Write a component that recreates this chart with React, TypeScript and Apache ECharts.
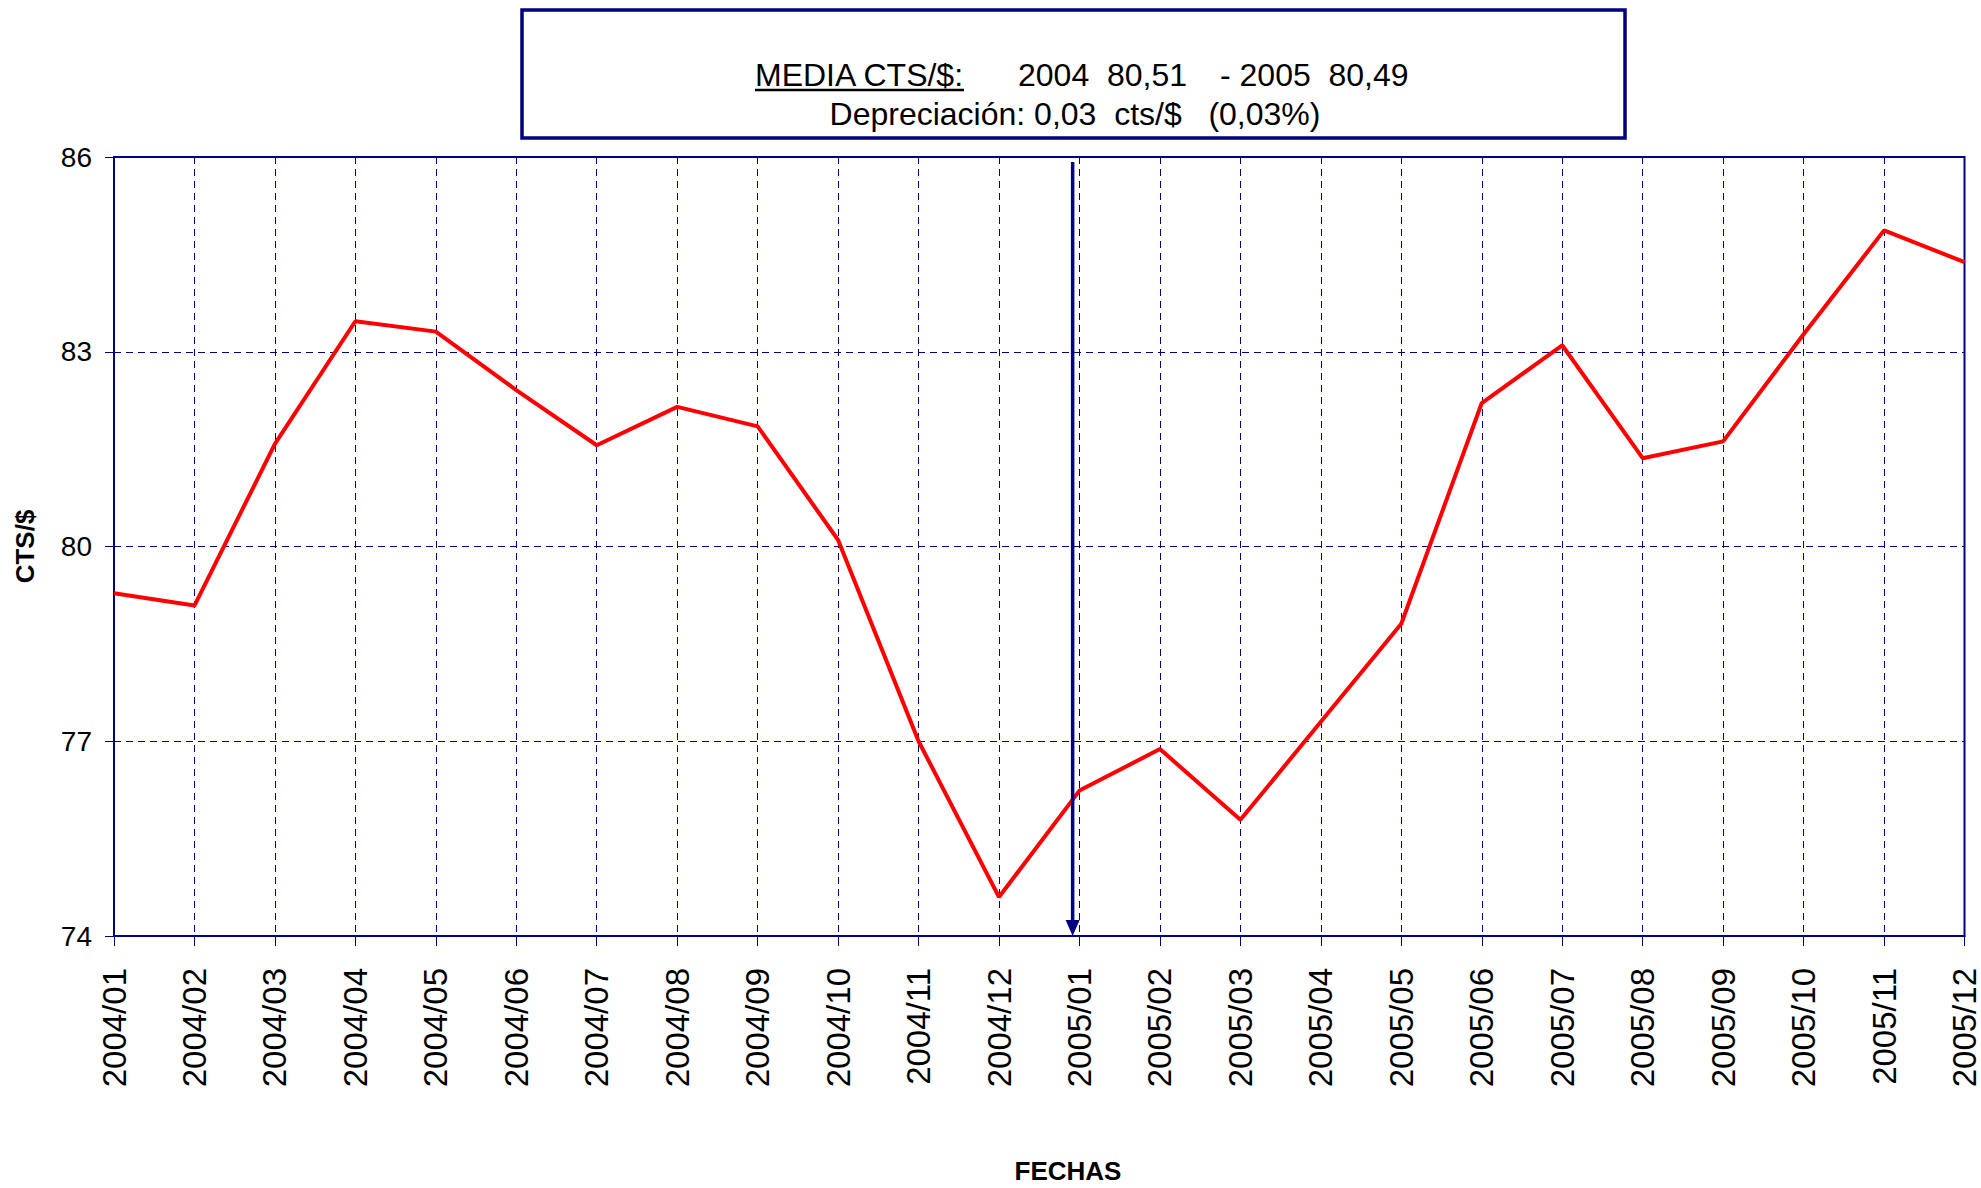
import { useEffect, useRef } from "react";
import * as echarts from "echarts";

const months = [
  "2004/01", "2004/02", "2004/03", "2004/04", "2004/05", "2004/06",
  "2004/07", "2004/08", "2004/09", "2004/10", "2004/11", "2004/12",
  "2005/01", "2005/02", "2005/03", "2005/04", "2005/05", "2005/06",
  "2005/07", "2005/08", "2005/09", "2005/10", "2005/11", "2005/12",
];
const ctsPerDollar = [
  79.28, 79.09, 81.58, 83.47, 83.31, 82.41, 81.56, 82.15, 81.85, 80.1, 77.0, 74.6,
  76.24, 76.88, 75.79, 77.3, 78.81, 82.21, 83.1, 81.36, 81.62, 83.27, 84.87, 84.38,
];
const yMin = 74;
const yMax = 86;
const yStep = 3;
const yName = "CTS/$";
const xName = "FECHAS";
const headLabel = "MEDIA CTS/$:";
const head2004 = "2004  80,51";
const head2005 = "- 2005  80,49";
const headLine2 = "Depreciación: 0,03  cts/$   (0,03%)";
const arrowMonth = "2005/01";

const NAVY = "#000080";
const FONT = "'Liberation Sans', Arial, sans-serif";

export default function App() {
  const ref = useRef<HTMLDivElement>(null);
  useEffect(() => {
    if (!ref.current) return;
    const chart = echarts.init(ref.current, null, { renderer: "svg" });
    chart.setOption({
      animation: false,
      backgroundColor: "#ffffff",
      textStyle: { fontFamily: FONT },
      grid: {
        left: 114,
        right: 12,
        top: 157,
        bottom: 252,
        show: true,
        borderColor: NAVY,
        borderWidth: 2,
        backgroundColor: "transparent",
      },
      xAxis: {
        type: "category",
        data: months,
        boundaryGap: false,
        axisLine: { show: true, lineStyle: { color: NAVY, width: 2 } },
        axisTick: { show: true, interval: 0, length: 10, lineStyle: { color: NAVY, width: 1 } },
        axisLabel: {
          interval: 0,
          rotate: 90,
          margin: 32,
          fontSize: 33,
          color: "#000",
          fontFamily: FONT,
        },
        splitLine: {
          show: true,
          interval: 0,
          lineStyle: { color: NAVY, width: 1, type: [7, 5] },
        },
      },
      yAxis: {
        type: "value",
        min: yMin,
        max: yMax,
        interval: yStep,
        name: yName,
        nameLocation: "middle",
        nameGap: 76,
        nameRotate: 90,
        nameTextStyle: { fontSize: 26, fontWeight: "bold", color: "#000", fontFamily: FONT },
        axisLine: { show: true, lineStyle: { color: NAVY, width: 2 } },
        axisTick: { show: true, length: 9, lineStyle: { color: NAVY, width: 1 } },
        axisLabel: { margin: 22, fontSize: 28, color: "#000", fontFamily: FONT },
        splitLine: { show: true, lineStyle: { color: NAVY, width: 1, type: [7, 5] } },
      },
      series: [
        {
          type: "line",
          data: ctsPerDollar,
          showSymbol: false,
          symbol: "none",
          lineStyle: { color: "#ff0000", width: 4 },
          z: 5,
        },
      ],
    });

    const idx = months.indexOf(arrowMonth);
    const px = chart.convertToPixel({ xAxisIndex: 0 }, idx) as number;
    const pxPrev = chart.convertToPixel({ xAxisIndex: 0 }, idx - 1) as number;
    const ax = px - (px - pxPrev) * 0.085;
    const top = (chart.convertToPixel({ yAxisIndex: 0 }, yMax) as number) + 5;
    const bottom = chart.convertToPixel({ yAxisIndex: 0 }, yMin) as number;

    chart.setOption({
      graphic: [
        {
          type: "rect",
          shape: { x: 522, y: 10, width: 1103, height: 128 },
          style: { fill: "#ffffff", stroke: NAVY, lineWidth: 3.5 },
          z: 10,
        },
        {
          type: "text",
          x: 755,
          y: 75,
          style: { text: headLabel, font: `32px ${FONT}`, fill: "#000", textAlign: "left", textVerticalAlign: "middle" },
          z: 11,
        },
        {
          type: "line",
          shape: { x1: 755, y1: 90, x2: 964, y2: 90 },
          style: { stroke: "#000", lineWidth: 2.5 },
          z: 11,
        },
        {
          type: "text",
          x: 1018,
          y: 75,
          style: { text: head2004, font: `32px ${FONT}`, fill: "#000", textAlign: "left", textVerticalAlign: "middle" },
          z: 11,
        },
        {
          type: "text",
          x: 1220,
          y: 75,
          style: { text: head2005, font: `32px ${FONT}`, fill: "#000", textAlign: "left", textVerticalAlign: "middle" },
          z: 11,
        },
        {
          type: "text",
          x: 1075,
          y: 114,
          style: { text: headLine2, font: `32px ${FONT}`, fill: "#000", textAlign: "center", textVerticalAlign: "middle" },
          z: 11,
        },
        {
          type: "text",
          x: 1068,
          y: 1171,
          style: { text: xName, font: `bold 26px ${FONT}`, fill: "#000", textAlign: "center", textVerticalAlign: "middle" },
          z: 11,
        },
        {
          type: "line",
          shape: { x1: ax, y1: top, x2: ax, y2: bottom - 14 },
          style: { stroke: NAVY, lineWidth: 3.5 },
          z: 12,
        },
        {
          type: "polygon",
          shape: { points: [[ax - 7, bottom - 16], [ax + 7, bottom - 16], [ax, bottom]] },
          style: { fill: NAVY },
          z: 12,
        },
      ],
    });

    return () => chart.dispose();
  }, []);

  return (
    <div
      ref={ref}
      style={{ position: "fixed", left: 0, top: 0, width: 1981, height: 1188, background: "#fff" }}
    />
  );
}
